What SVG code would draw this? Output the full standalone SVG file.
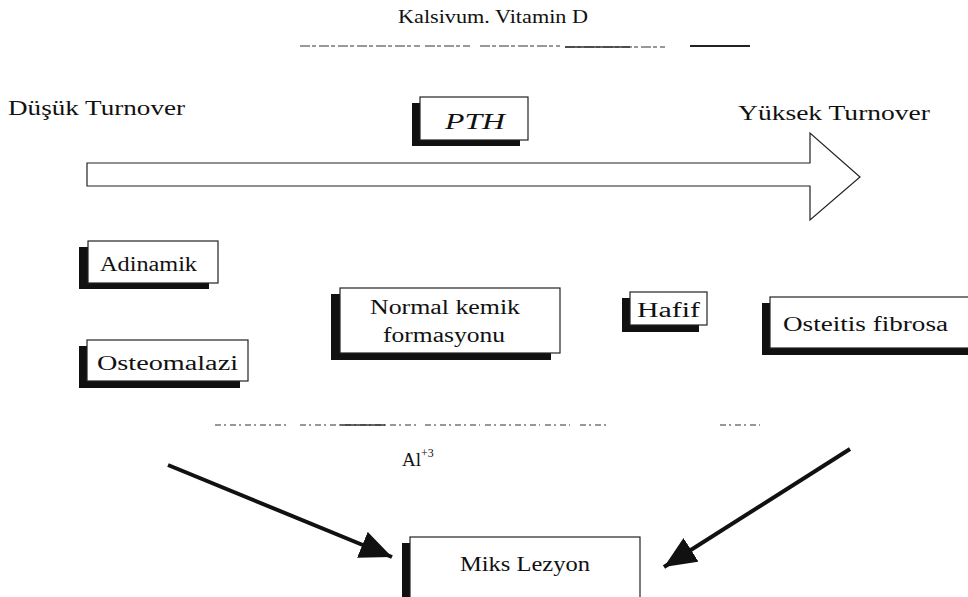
<svg xmlns="http://www.w3.org/2000/svg" width="968" height="597" viewBox="0 0 968 597">
<defs>
<style>
text{font-family:"Liberation Serif","Times New Roman",serif;fill:#111}
.box{fill:#fff;stroke:#222;stroke-width:1.2}
.sh{fill:#111}
.t{font-size:20px}
.noise{stroke:#777;stroke-width:1.5;fill:none}
.conn{stroke:#111;stroke-width:4;fill:none}
</style>
<marker id="ah" markerWidth="9" markerHeight="8" refX="8" refY="3.5" orient="auto" markerUnits="strokeWidth">
<path d="M0,0 L8,3.5 L0,7 Z" fill="#111"/>
</marker>
</defs>
<rect width="968" height="597" fill="#fff"/>
<text x="398" y="23" font-size="18" textLength="190" lengthAdjust="spacingAndGlyphs">Kalsivum. Vitamin D</text>
<g id="noise1">
<path class="noise" d="M300,46 H420 M425,46 H470 M480,46 H560 M565,47 H665 M700,46 H750" stroke-dasharray="10,2,4,3"/>
<path d="M690,46 H750" stroke="#222" stroke-width="2"/>
<path d="M565,47 H630" stroke="#333" stroke-width="1.6"/>
</g>
<text x="8" y="115" font-size="20" textLength="177" lengthAdjust="spacingAndGlyphs">Düşük Turnover</text>
<text x="738" y="120" font-size="20" textLength="192" lengthAdjust="spacingAndGlyphs">Yüksek Turnover</text>
<g id="bigarrow">
<path d="M87,163 H810 V133 L860,177 L810,220 V186 H87 Z" fill="#fff" stroke="#222" stroke-width="1.2"/>
</g>
<g id="pth">
<rect class="sh" x="412" y="103" width="108" height="43"/>
<rect class="box" x="420" y="97" width="108" height="43"/>
<text x="445" y="129" font-size="24" font-style="italic" textLength="60" lengthAdjust="spacingAndGlyphs">PTH</text>
</g>
<g id="adinamik">
<rect class="sh" x="79" y="247" width="130" height="42"/>
<rect class="box" x="88" y="241" width="130" height="42"/>
<text class="t" x="100" y="271" textLength="97" lengthAdjust="spacingAndGlyphs">Adinamik</text>
</g>
<g id="osteomalazi">
<rect class="sh" x="79" y="346" width="161" height="42"/>
<rect class="box" x="87" y="340" width="161" height="41"/>
<text class="t" x="97" y="370" textLength="141" lengthAdjust="spacingAndGlyphs">Osteomalazi</text>
</g>
<g id="normal">
<rect class="sh" x="331" y="294" width="220" height="66"/>
<rect class="box" x="340" y="288" width="220" height="65"/>
<text class="t" x="370" y="314" textLength="150" lengthAdjust="spacingAndGlyphs">Normal kemik</text>
<text class="t" x="383" y="342" textLength="122" lengthAdjust="spacingAndGlyphs">formasyonu</text>
</g>
<g id="hafif">
<rect class="sh" x="622" y="298" width="77" height="34"/>
<rect class="box" x="630" y="292" width="77" height="33"/>
<text class="t" x="637" y="317" textLength="63" lengthAdjust="spacingAndGlyphs">Hafif</text>
</g>
<g id="osteitis">
<rect class="sh" x="762" y="303" width="206" height="52"/>
<rect class="box" x="770" y="297" width="200" height="51"/>
<text class="t" x="783" y="331" textLength="165" lengthAdjust="spacingAndGlyphs">Osteitis fibrosa</text>
</g>
<g id="noise2">
<path class="noise" d="M215,425 H290 M300,425 H340 M345,425 H420 M425,425 H480 M485,425 H540 M545,425 H570 M580,425 H610 M720,425 H760" stroke-dasharray="6,3,2,4"/>
<path d="M340,425 H385" stroke="#333" stroke-width="1.5"/>
</g>
<text x="402" y="466" font-size="19">Al<tspan font-size="12" dy="-9">+3</tspan></text>
<g id="connectors">
<line class="conn" x1="168" y1="465" x2="392" y2="557" marker-end="url(#ah)"/>
<line class="conn" x1="850" y1="449" x2="664" y2="567" marker-end="url(#ah)"/>
</g>
<g id="miks">
<rect class="sh" x="402" y="543" width="230" height="60"/>
<rect class="box" x="410" y="537" width="230" height="65"/>
<text class="t" x="460" y="571" textLength="130" lengthAdjust="spacingAndGlyphs">Miks Lezyon</text>
</g>
</svg>
